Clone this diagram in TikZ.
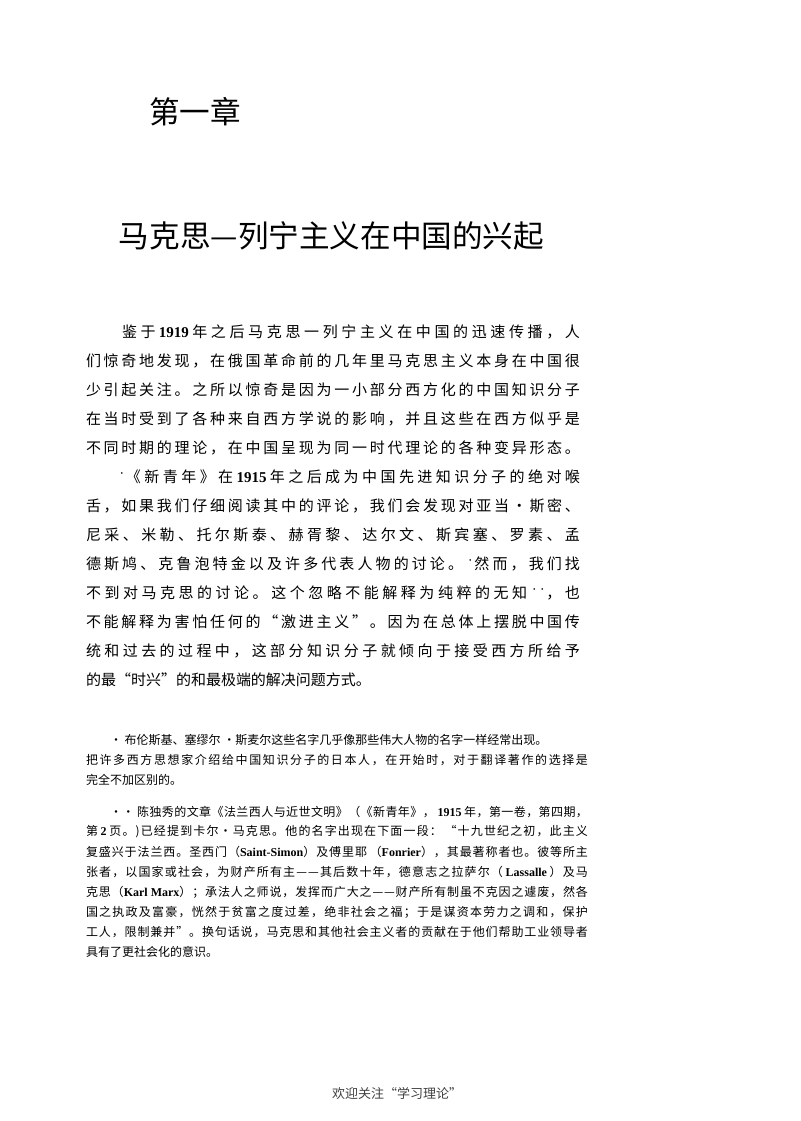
\documentclass[tikz,border=0pt]{standalone}
\usepackage{fontspec}
\setmainfont{Noto Sans CJK SC}
\newfontfamily\lat{Liberation Serif}
\usetikzlibrary{positioning}

% stretchable glue between CJK characters, so that a line can be set to full width
\XeTeXinterchartokenstate=1
\count255="3000
\loop
  \XeTeXcharclass\count255=1
  \advance\count255 by 1
\ifnum\count255<"A000 \repeat
\XeTeXcharclass"FF0C=1 \XeTeXcharclass"FF1B=1 \XeTeXcharclass"FF1A=1
\XeTeXcharclass"FF08=1 \XeTeXcharclass"FF09=1
\XeTeXcharclass"201C=1 \XeTeXcharclass"201D=1 \XeTeXcharclass"2014=1
\XeTeXcharclass"00B7=1 \XeTeXcharclass"2022=1
\XeTeXinterchartoks 1 1 = {\hskip0pt plus 1fil\relax}
\XeTeXinterchartoks 0 1 = {\hskip0pt plus 1fil\relax}
\XeTeXinterchartoks 1 0 = {\hskip0pt plus 1fil\relax}

\newcommand\en[1]{{\lat\bfseries #1}}
\newcommand\mk[1]{\raisebox{3pt}{\fontsize{4}{4}\selectfont #1}}
\newcommand\bline[3]{\node[body] (#1) at (86,#2) {\hbox to 247pt{#3}};}
\newcommand\fline[3]{\node[note] (#1) at (86,#2) {\hbox to 251pt{#3}};}

\begin{document}
\begin{tikzpicture}[x=0.5pt,y=-0.5pt,
    every node/.style={inner sep=0pt,outer sep=0pt},
    head/.style={anchor=west,font=\fontsize{15.3}{15.3}\selectfont},
    body/.style={anchor=west,font=\fontsize{7.5}{7.5}\selectfont},
    note/.style={anchor=west,font=\fontsize{6}{6}\selectfont},
    foot/.style={font=\fontsize{6.5}{6.5}\selectfont,text=black!75}]
    \useasboundingbox (0,0) rectangle (800,1121);

    \node[head] (chap)  at (149,112) {第一章};
    \node[head] (title) at (119,236) {马克思—列宁主义在中国的兴起};

    % main text
    \bline{b1}{332}{\hspace*{18pt}鉴于 \en{1919} 年之后马克思一列宁主义在中国的迅速传播，人}
    \bline{b2}{361}{们惊奇地发现，在俄国革命前的几年里马克思主义本身在中国很}
    \bline{b3}{390}{少引起关注。之所以惊奇是因为一小部分西方化的中国知识分子}
    \bline{b4}{419}{在当时受到了各种来自西方学说的影响，并且这些在西方似乎是}
    \bline{b5}{448}{不同时期的理论，在中国呈现为同一时代理论的各种变异形态。}
    \bline{b6}{477}{\hspace*{16pt}\mk{•}《新青年》在 \en{1915} 年之后成为中国先进知识分子的绝对喉}
    \bline{b7}{506}{舌，如果我们仔细阅读其中的评论，我们会发现对亚当·斯密、}
    \bline{b8}{535}{尼采、米勒、托尔斯泰、赫胥黎、达尔文、斯宾塞、罗素、孟}
    \bline{b9}{564}{德斯鸠、克鲁泡特金以及许多代表人物的讨论。 \mk{•}然而，我们找}
    \bline{b10}{593}{不到对马克思的讨论。这个忽略不能解释为纯粹的无知 \mk{••}，也}
    \bline{b11}{622}{不能解释为害怕任何的“激进主义”。因为在总体上摆脱中国传}
    \bline{b12}{651}{统和过去的过程中，这部分知识分子就倾向于接受西方所给予}
    \node[body] (b13) at (86,680) {的最“时兴”的和最极端的解决问题方式。};

    % notes
    \node[note] (f1) at (110,740) {• 布伦斯基、塞缪尔 ·斯麦尔这些名字几乎像那些伟大人物的名字一样经常出现。};
    \fline{f2}{760}{把许多西方思想家介绍给中国知识分子的日本人，在开始时，对于翻译著作的选择是}
    \node[note] (f3) at (86,780) {完全不加区别的。};

    \fline{g1}{812}{\hspace*{12pt}•• 陈独秀的文章《法兰西人与近世文明》（《新青年》， \en{1915} 年，第一卷，第四期，}
    \fline{g2}{832}{第 \en{2} 页。)已经提到卡尔·马克思。他的名字出现在下面一段： “十九世纪之初，此主义}
    \fline{g3}{852}{复盛兴于法兰西。圣西门（\en{Saint-Simon}）及傅里耶 （\en{Fonrier}），其最著称者也。彼等所主}
    \fline{g4}{872}{张者，以国家或社会，为财产所有主——其后数十年，德意志之拉萨尔（ \en{Lassalle} ）及马}
    \fline{g5}{892}{克思（\en{Karl Marx}）；承法人之师说，发挥而广大之——财产所有制虽不克因之遽废，然各}
    \fline{g6}{912}{国之执政及富豪，恍然于贫富之度过差，绝非社会之福；于是谋资本劳力之调和，保护}
    \fline{g7}{932}{工人，限制兼并”。换句话说，马克思和其他社会主义者的贡献在于他们帮助工业领导者}
    \node[note] (g8) at (86,952) {具有了更社会化的意识。};

    \node[foot] (slogan) at (397,1093) {欢迎关注“学习理论”};
\end{tikzpicture}
\end{document}
